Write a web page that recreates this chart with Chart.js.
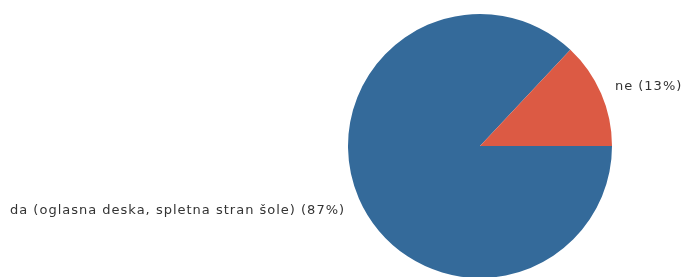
<!DOCTYPE html>
<html>
<head>
<meta charset="utf-8">
<script src="https://cdn.jsdelivr.net/npm/chart.js@4/dist/chart.umd.min.js"></script>
<style>
    html, body { margin: 0; padding: 0; background: #fff; }
    #wrap { width: 687px; height: 277px; overflow: hidden; position: relative; }
</style>
</head>
<body>
<div id="wrap"><canvas id="pie" width="687" height="300"></canvas></div>
<script>
// podatki
const labels = ['da (oglasna deska, spletna stran šole)', 'ne'];
const values = [87, 13];
const colors = ['#346a9a', '#dc5a44'];

// zamik oznak po y (samo izgled)
const labelShiftY = [6, -1];

// oznake ob rezinah
const sliceLabels = {
    id: 'sliceLabels',
    afterDatasetsDraw(chart) {
        const ctx = chart.ctx;
        const meta = chart.getDatasetMeta(0);
        ctx.save();
        ctx.font = '13px "DejaVu Sans", Verdana, sans-serif';
        ctx.letterSpacing = '1px';
        ctx.fillStyle = '#333';
        ctx.textBaseline = 'middle';
        meta.data.forEach((arc, i) => {
            const p = arc.getProps(['x', 'y', 'startAngle', 'endAngle', 'outerRadius']);
            const mid = (p.startAngle + p.endAngle) / 2;
            const r = p.outerRadius + 15;
            const x = p.x + Math.cos(mid) * r;
            const y = p.y + Math.sin(mid) * r + labelShiftY[i];
            ctx.textAlign = Math.cos(mid) < 0 ? 'right' : 'left';
            ctx.fillText(labels[i] + ' (' + values[i] + '%)', x, y);
        });
        ctx.restore();
    }
};

new Chart(document.getElementById('pie'), {
    type: 'pie',
    data: {
        labels: labels,
        datasets: [{
            data: values,
            backgroundColor: colors,
            borderWidth: 0
        }]
    },
    options: {
        responsive: false,
        animation: false,
        rotation: 90,
        layout: { padding: { left: 348, right: 75, top: 14, bottom: 22 } },
        plugins: {
            legend: { display: false },
            tooltip: { enabled: false }
        }
    },
    plugins: [sliceLabels]
});
</script>
</body>
</html>
